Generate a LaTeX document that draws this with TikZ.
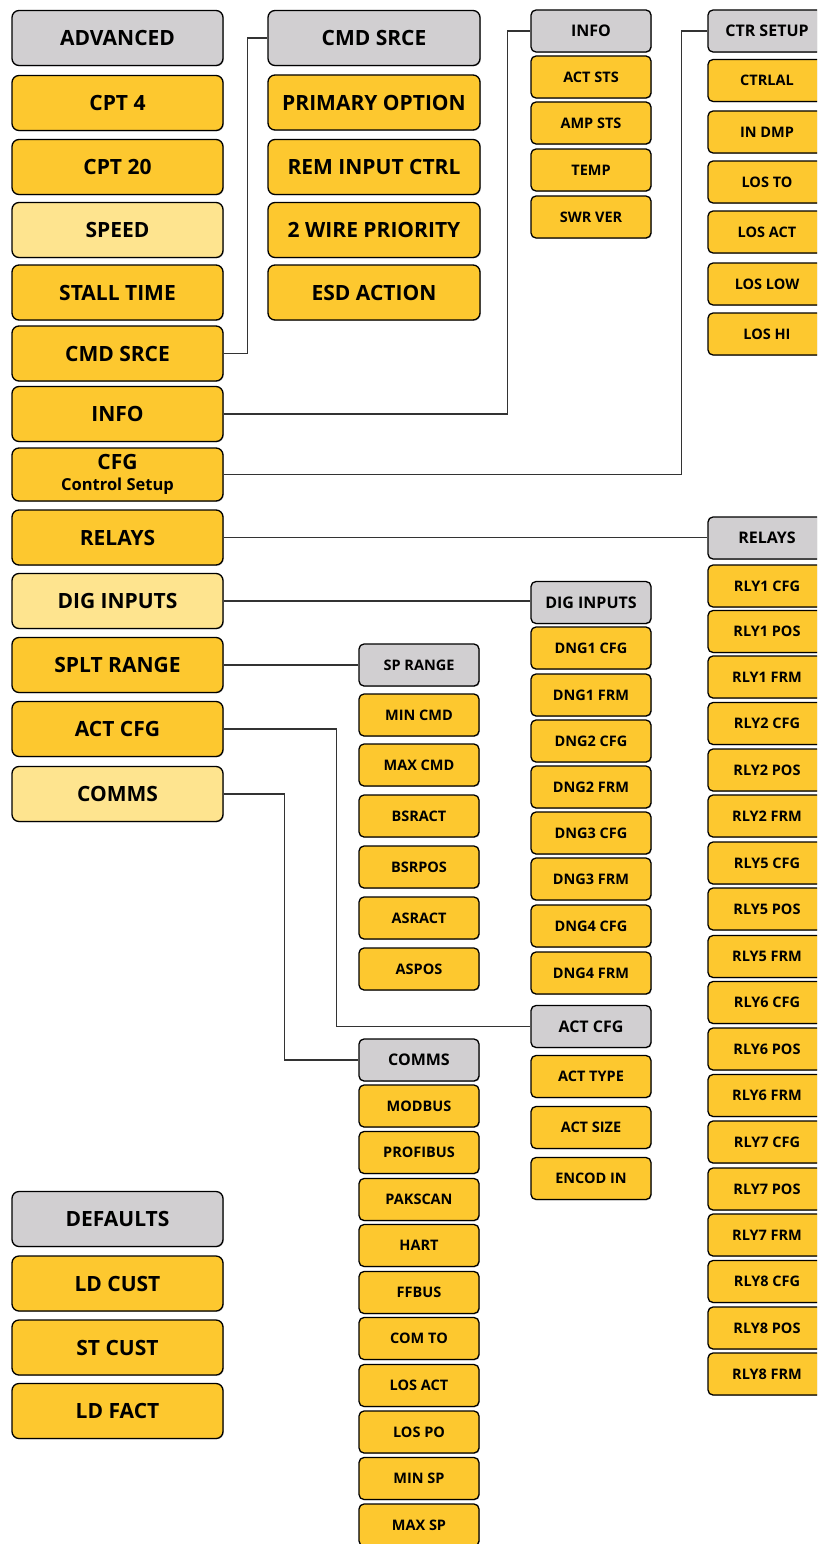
\documentclass[tikz,border=0pt]{standalone}
\usepackage{fontspec}
\setmainfont{Open Sans}
\usetikzlibrary{shadows}
\definecolor{menuYellow}{HTML}{FDC82F}
\definecolor{menuGray}{HTML}{D1CFD1}
\definecolor{menuPale}{HTML}{FEE48F}
\newcommand{\bigFont}{\fontsize{21}{23}\selectfont\bfseries}
\newcommand{\smallFont}{\fontsize{14.5}{16}\selectfont\bfseries}
\newcommand{\headFont}{\fontsize{16}{18}\selectfont\bfseries}

\begin{document}
\begin{tikzpicture}[x=1pt, y=-1pt,
	menubox/.style={draw=black, line width=1.3pt, inner sep=0pt, align=center,
		drop shadow={shadow xshift=0.8pt, shadow yshift=-0.8pt, fill=black!40, opacity=0.6}},
	bigbox/.style={menubox, rounded corners=7pt, minimum width=211pt, minimum height=55pt, font=\bigFont},
	smallbox/.style={menubox, rounded corners=5pt, minimum width=120pt, minimum height=42pt, font=\smallFont},
	rowfill/.style={fill=menuYellow},
	headfill/.style={fill=menuGray},
	palefill/.style={fill=menuPale},
	link/.style={draw=black!80, line width=1.2pt}]
	\useasboundingbox (0,0) rectangle (817,1544);
	\clip (0,0) rectangle (817,1544);

	% main menu
	\node[bigbox, headfill] (advanced) at (117.5,38) {ADVANCED};
	\node[bigbox, rowfill] (cpt4) at (117.5,103) {CPT 4};
	\node[bigbox, rowfill] (cpt20) at (117.5,167) {CPT 20};
	\node[bigbox, palefill] (speed) at (117.5,230) {SPEED};
	\node[bigbox, rowfill] (stall) at (117.5,292.5) {STALL TIME};
	\node[bigbox, rowfill] (cmdsrce) at (117.5,353.5) {CMD SRCE};
	\node[bigbox, rowfill] (info) at (117.5,414) {INFO};
	\node[bigbox, rowfill, minimum height=53pt] (cfg) at (117.5,474.5) {CFG\\[-2pt]{\fontsize{16.5}{18}\selectfont Control Setup}};
	\node[bigbox, rowfill] (relays) at (117.5,537.5) {RELAYS};
	\node[bigbox, palefill] (diginputs) at (117.5,601) {DIG INPUTS};
	\node[bigbox, rowfill] (spltrange) at (117.5,665) {SPLT RANGE};
	\node[bigbox, rowfill] (actcfg) at (117.5,729) {ACT CFG};
	\node[bigbox, palefill] (comms) at (117.5,794) {COMMS};

	\node[bigbox, headfill] (defaults) at (117.5,1219) {DEFAULTS};
	\node[bigbox, rowfill] (ldcust) at (117.5,1283.5) {LD CUST};
	\node[bigbox, rowfill] (stcust) at (117.5,1347.5) {ST CUST};
	\node[bigbox, rowfill] (ldfact) at (117.5,1411) {LD FACT};

	% CMD SRCE
	\node[bigbox, headfill, minimum width=212pt] (cmdhead) at (374,38) {CMD SRCE};
	\node[bigbox, rowfill, minimum width=212pt] (primary) at (374,102.5) {PRIMARY OPTION};
	\node[bigbox, rowfill, minimum width=212pt] (reminput) at (374,167) {REM INPUT CTRL};
	\node[bigbox, rowfill, minimum width=212pt] (twowire) at (374,230) {2 WIRE PRIORITY};
	\node[bigbox, rowfill, minimum width=212pt] (esd) at (374,292.5) {ESD ACTION};

	% INFO
	\node[smallbox, headfill, font=\headFont] (infohead) at (591,31) {INFO};
	\node[smallbox, rowfill] (actsts) at (591,77) {ACT STS};
	\node[smallbox, rowfill] (ampsts) at (591,123) {AMP STS};
	\node[smallbox, rowfill] (temp) at (591,170) {TEMP};
	\node[smallbox, rowfill] (swrver) at (591,217) {SWR VER};

	% CTR SETUP
	\node[smallbox, headfill, font=\headFont, minimum width=118pt] (ctrhead) at (767,31) {CTR SETUP};
	\node[smallbox, rowfill, minimum width=118pt] (ctrlal) at (767,80.5) {CTRLAL};
	\node[smallbox, rowfill, minimum width=118pt] (indmp) at (767,132) {IN DMP};
	\node[smallbox, rowfill, minimum width=118pt] (losto) at (767,182) {LOS TO};
	\node[smallbox, rowfill, minimum width=118pt] (losact) at (767,232) {LOS ACT};
	\node[smallbox, rowfill, minimum width=118pt] (loslow) at (767,284) {LOS LOW};
	\node[smallbox, rowfill, minimum width=118pt] (loshi) at (767,334) {LOS HI};

	% RELAYS
	\node[smallbox, headfill, font=\headFont, minimum width=118pt] (relayhead) at (767,538) {RELAYS};
	\node[smallbox, rowfill, minimum width=118pt] (rlyonecfg) at (767,586) {RLY1 CFG};
	\node[smallbox, rowfill, minimum width=118pt] (rlyonepos) at (767,631.5) {RLY1 POS};
	\node[smallbox, rowfill, minimum width=118pt] (rlyonefrm) at (767,677) {RLY1 FRM};
	\node[smallbox, rowfill, minimum width=118pt] (rlytwocfg) at (767,723.5) {RLY2 CFG};
	\node[smallbox, rowfill, minimum width=118pt] (rlytwopos) at (767,770) {RLY2 POS};
	\node[smallbox, rowfill, minimum width=118pt] (rlytwofrm) at (767,816) {RLY2 FRM};
	\node[smallbox, rowfill, minimum width=118pt] (rlyfivecfg) at (767,863) {RLY5 CFG};
	\node[smallbox, rowfill, minimum width=118pt] (rlyfivepos) at (767,909) {RLY5 POS};
	\node[smallbox, rowfill, minimum width=118pt] (rlyfivefrm) at (767,956.5) {RLY5 FRM};
	\node[smallbox, rowfill, minimum width=118pt] (rlysixcfg) at (767,1002.5) {RLY6 CFG};
	\node[smallbox, rowfill, minimum width=118pt] (rlysixpos) at (767,1049) {RLY6 POS};
	\node[smallbox, rowfill, minimum width=118pt] (rlysixfrm) at (767,1095.5) {RLY6 FRM};
	\node[smallbox, rowfill, minimum width=118pt] (rlysevencfg) at (767,1142) {RLY7 CFG};
	\node[smallbox, rowfill, minimum width=118pt] (rlysevenpos) at (767,1189) {RLY7 POS};
	\node[smallbox, rowfill, minimum width=118pt] (rlysevenfrm) at (767,1235) {RLY7 FRM};
	\node[smallbox, rowfill, minimum width=118pt] (rlyeightcfg) at (767,1281.5) {RLY8 CFG};
	\node[smallbox, rowfill, minimum width=118pt] (rlyeightpos) at (767,1328) {RLY8 POS};
	\node[smallbox, rowfill, minimum width=118pt] (rlyeightfrm) at (767,1374) {RLY8 FRM};

	% DIG INPUTS
	\node[smallbox, headfill, font=\headFont] (dighead) at (591,602.5) {DIG INPUTS};
	\node[smallbox, rowfill] (dngonecfg) at (591,648) {DNG1 CFG};
	\node[smallbox, rowfill] (dngonefrm) at (591,695) {DNG1 FRM};
	\node[smallbox, rowfill] (dngtwocfg) at (591,741) {DNG2 CFG};
	\node[smallbox, rowfill] (dngtwofrm) at (591,787) {DNG2 FRM};
	\node[smallbox, rowfill] (dngthreecfg) at (591,833) {DNG3 CFG};
	\node[smallbox, rowfill] (dngthreefrm) at (591,879) {DNG3 FRM};
	\node[smallbox, rowfill] (dngfourcfg) at (591,926) {DNG4 CFG};
	\node[smallbox, rowfill] (dngfourfrm) at (591,973) {DNG4 FRM};

	% SP RANGE
	\node[smallbox, headfill] (sphead) at (419,665) {SP RANGE};
	\node[smallbox, rowfill] (mincmd) at (419,715) {MIN CMD};
	\node[smallbox, rowfill] (maxcmd) at (419,765) {MAX CMD};
	\node[smallbox, rowfill] (bsract) at (419,816) {BSRACT};
	\node[smallbox, rowfill] (bsrpos) at (419,867) {BSRPOS};
	\node[smallbox, rowfill] (asract) at (419,918) {ASRACT};
	\node[smallbox, rowfill] (aspos) at (419,969) {ASPOS};

	% ACT CFG
	\node[smallbox, headfill, font=\headFont] (acthead) at (591,1026.5) {ACT CFG};
	\node[smallbox, rowfill] (acttype) at (591,1076.5) {ACT TYPE};
	\node[smallbox, rowfill] (actsize) at (591,1127.5) {ACT SIZE};
	\node[smallbox, rowfill] (encodin) at (591,1178.5) {ENCOD IN};

	% COMMS
	\node[smallbox, headfill, font=\headFont] (commshead) at (419,1060) {COMMS};
	\node[smallbox, rowfill] (modbus) at (419,1106) {MODBUS};
	\node[smallbox, rowfill] (profibus) at (419,1152.5) {PROFIBUS};
	\node[smallbox, rowfill] (pakscan) at (419,1199.5) {PAKSCAN};
	\node[smallbox, rowfill] (hart) at (419,1245.5) {HART};
	\node[smallbox, rowfill] (ffbus) at (419,1292.5) {FFBUS};
	\node[smallbox, rowfill] (comto) at (419,1338.5) {COM TO};
	\node[smallbox, rowfill] (commlosact) at (419,1385.5) {LOS ACT};
	\node[smallbox, rowfill] (commlospo) at (419,1432) {LOS PO};
	\node[smallbox, rowfill] (minsp) at (419,1478.5) {MIN SP};
	\node[smallbox, rowfill] (maxsp) at (419,1525) {MAX SP};

	% connectors
	\draw[link] (cmdsrce.east) -- ++(24,0) |- (cmdhead.west);
	\draw[link] (info.east) -- ++(284,0) |- (infohead.west);
	\draw[link] (cfg.east) -- ++(458,0) |- (ctrhead.west);
	\draw[link] (relays.east) -- (relays.east -| relayhead.west);
	\draw[link] (diginputs.east) -- (diginputs.east -| dighead.west);
	\draw[link] (spltrange.east) -- (sphead.west);
	\draw[link] (actcfg.east) -- ++(113,0) |- (acthead.west);
	\draw[link] (comms.east) -- ++(61,0) |- (commshead.west);

\end{tikzpicture}
\end{document}
